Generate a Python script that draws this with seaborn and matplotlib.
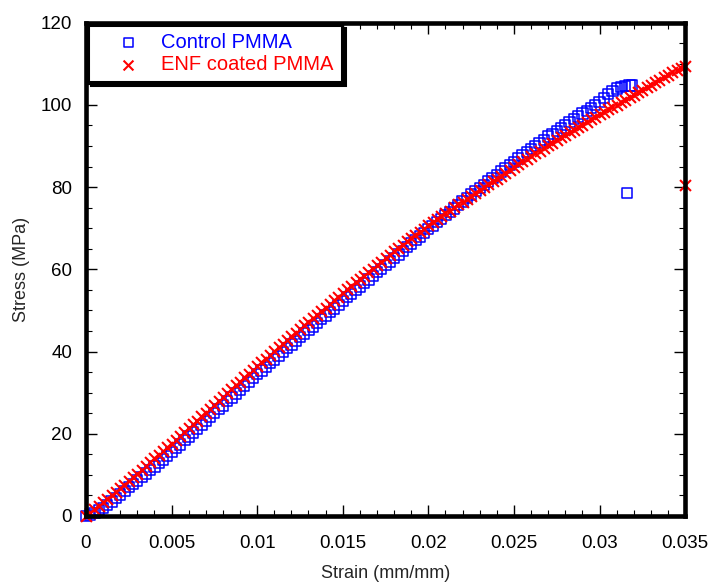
import numpy as np
import pandas as pd
import matplotlib
matplotlib.use("Agg")
import matplotlib.pyplot as plt
from matplotlib.ticker import MultipleLocator
import seaborn as sns

# Control PMMA (strain in mm/mm, stress in MPa)
control_strain = [
    0.0, 0.00025, 0.0005, 0.00075, 0.001, 0.00125, 0.0015, 0.00175, 0.002, 0.00225,
    0.0025, 0.00275, 0.003, 0.00325, 0.0035, 0.00375, 0.004, 0.00425, 0.0045, 0.00475,
    0.005, 0.00525, 0.0055, 0.00575, 0.006, 0.00625, 0.0065, 0.00675, 0.007, 0.00725,
    0.0075, 0.00775, 0.008, 0.00825, 0.0085, 0.00875, 0.009, 0.00925, 0.0095, 0.00975,
    0.01, 0.01025, 0.0105, 0.01075, 0.011, 0.01125, 0.0115, 0.01175, 0.012, 0.01225,
    0.0125, 0.01275, 0.013, 0.01325, 0.0135, 0.01375, 0.014, 0.01425, 0.0145, 0.01475,
    0.015, 0.01525, 0.0155, 0.01575, 0.016, 0.01625, 0.0165, 0.01675, 0.017, 0.01725,
    0.0175, 0.01775, 0.018, 0.01825, 0.0185, 0.01875, 0.019, 0.01925, 0.0195, 0.01975,
    0.02, 0.02025, 0.0205, 0.02075, 0.021, 0.02125, 0.0215, 0.02175, 0.022, 0.02225,
    0.0225, 0.02275, 0.023, 0.02325, 0.0235, 0.02375, 0.024, 0.02425, 0.0245, 0.02475,
    0.025, 0.02525, 0.0255, 0.02575, 0.026, 0.02625, 0.0265, 0.02675, 0.027, 0.02725,
    0.0275, 0.02775, 0.028, 0.02825, 0.0285, 0.02875, 0.029, 0.02925, 0.0295, 0.02975,
    0.03, 0.03025, 0.0305, 0.03075, 0.031, 0.03125, 0.0315, 0.03175, 0.0319,
    0.0316,
]
control_stress = [
    0.0, 0.3, 0.8, 1.4, 2.0, 2.7, 3.5, 4.3, 5.2, 6.1,
    7.0, 7.8, 8.6, 9.5, 10.3, 11.2, 12.0, 12.9, 13.7, 14.6,
    15.5, 16.5, 17.4, 18.4, 19.3, 20.3, 21.2, 22.2, 23.1, 24.1,
    25.0, 26.0, 26.9, 27.9, 28.8, 29.8, 30.7, 31.7, 32.6, 33.6,
    34.5, 35.4, 36.3, 37.2, 38.1, 39.0, 39.9, 40.8, 41.7, 42.6,
    43.5, 44.4, 45.3, 46.1, 47.0, 47.9, 48.8, 49.7, 50.5, 51.4,
    52.3, 53.2, 54.0, 54.9, 55.8, 56.7, 57.5, 58.4, 59.3, 60.1,
    61.0, 61.9, 62.8, 63.6, 64.5, 65.4, 66.3, 67.2, 68.0, 68.9,
    69.8, 70.6, 71.5, 72.3, 73.2, 74.0, 74.8, 75.7, 76.5, 77.4,
    78.2, 79.0, 79.8, 80.6, 81.4, 82.2, 83.0, 83.8, 84.6, 85.4,
    86.2, 87.0, 87.7, 88.5, 89.2, 90.0, 90.8, 91.5, 92.3, 93.0,
    93.7, 94.4, 95.1, 95.8, 96.5, 97.2, 97.9, 98.6, 99.3, 100.0,
    100.8, 101.7, 102.6, 103.4, 104.0, 104.4, 104.6, 104.7, 104.7,
    78.6,
]

# ENF coated PMMA
enf_strain = [
    0.0, 0.00025, 0.0005, 0.00075, 0.001, 0.00125, 0.0015, 0.00175, 0.002, 0.00225,
    0.0025, 0.00275, 0.003, 0.00325, 0.0035, 0.00375, 0.004, 0.00425, 0.0045, 0.00475,
    0.005, 0.00525, 0.0055, 0.00575, 0.006, 0.00625, 0.0065, 0.00675, 0.007, 0.00725,
    0.0075, 0.00775, 0.008, 0.00825, 0.0085, 0.00875, 0.009, 0.00925, 0.0095, 0.00975,
    0.01, 0.01025, 0.0105, 0.01075, 0.011, 0.01125, 0.0115, 0.01175, 0.012, 0.01225,
    0.0125, 0.01275, 0.013, 0.01325, 0.0135, 0.01375, 0.014, 0.01425, 0.0145, 0.01475,
    0.015, 0.01525, 0.0155, 0.01575, 0.016, 0.01625, 0.0165, 0.01675, 0.017, 0.01725,
    0.0175, 0.01775, 0.018, 0.01825, 0.0185, 0.01875, 0.019, 0.01925, 0.0195, 0.01975,
    0.02, 0.02025, 0.0205, 0.02075, 0.021, 0.02125, 0.0215, 0.02175, 0.022, 0.02225,
    0.0225, 0.02275, 0.023, 0.02325, 0.0235, 0.02375, 0.024, 0.02425, 0.0245, 0.02475,
    0.025, 0.02525, 0.0255, 0.02575, 0.026, 0.02625, 0.0265, 0.02675, 0.027, 0.02725,
    0.0275, 0.02775, 0.028, 0.02825, 0.0285, 0.02875, 0.029, 0.02925, 0.0295, 0.02975,
    0.03, 0.03025, 0.0305, 0.03075, 0.031, 0.03125, 0.0315, 0.03175, 0.032, 0.03225,
    0.0325, 0.03275, 0.033, 0.03325, 0.0335, 0.03375, 0.034, 0.03425, 0.0345, 0.03475,
    0.035,
    0.035,
]
enf_stress = [
    0.0, 0.8, 1.7, 2.5, 3.4, 4.2, 5.1, 5.9, 6.8, 7.6,
    8.5, 9.4, 10.3, 11.2, 12.1, 13.1, 14.0, 14.9, 15.8, 16.7,
    17.6, 18.5, 19.5, 20.4, 21.4, 22.3, 23.2, 24.2, 25.1, 26.1,
    27.0, 28.0, 28.9, 29.9, 30.8, 31.8, 32.7, 33.7, 34.6, 35.6,
    36.5, 37.4, 38.3, 39.2, 40.1, 41.0, 41.9, 42.8, 43.7, 44.6,
    45.5, 46.4, 47.2, 48.1, 49.0, 49.9, 50.7, 51.6, 52.5, 53.3,
    54.2, 55.1, 55.9, 56.8, 57.6, 58.5, 59.4, 60.2, 61.1, 61.9,
    62.8, 63.6, 64.4, 65.2, 66.0, 66.8, 67.6, 68.4, 69.2, 69.9,
    70.7, 71.4, 72.2, 72.9, 73.6, 74.3, 75.1, 75.8, 76.5, 77.2,
    77.9, 78.6, 79.3, 80.0, 80.7, 81.4, 82.1, 82.8, 83.5, 84.2,
    84.9, 85.6, 86.3, 86.9, 87.6, 88.2, 88.9, 89.5, 90.2, 90.8,
    91.5, 92.1, 92.7, 93.3, 94.0, 94.6, 95.2, 95.8, 96.5, 97.1,
    97.7, 98.3, 98.9, 99.5, 100.1, 100.7, 101.3, 101.9, 102.5, 103.1,
    103.7, 104.3, 104.9, 105.5, 106.1, 106.7, 107.3, 107.9, 108.5, 109.0,
    109.5,
    80.6,
]

series_names = ["Control PMMA", "ENF coated PMMA"]
series_colors = ["#0000ff", "#ff0000"]

control_df = pd.DataFrame({"strain": control_strain, "stress": control_stress})
enf_df = pd.DataFrame({"strain": enf_strain, "stress": enf_stress})

sns.set_theme(style="ticks")
plt.rcParams["font.family"] = ["Liberation Sans", "DejaVu Sans"]

fig = plt.figure(figsize=(7.10, 5.83), dpi=100)
ax = fig.add_axes([0.121, 0.115, 0.844, 0.846])

sns.scatterplot(data=control_df, x="strain", y="stress", ax=ax,
                marker="s", s=55, color=series_colors[0], facecolor="none",
                edgecolor=series_colors[0], linewidth=1.1, label=series_names[0],
                clip_on=False, zorder=3)
sns.scatterplot(data=enf_df, x="strain", y="stress", ax=ax,
                marker="x", s=62, color=series_colors[1],
                linewidth=1.5, label=series_names[1], clip_on=False, zorder=4)

ax.set_xlim(0, 0.035)
ax.set_ylim(0, 120)
ax.xaxis.set_minor_locator(MultipleLocator(0.001))
ax.yaxis.set_major_locator(MultipleLocator(20))
ax.yaxis.set_minor_locator(MultipleLocator(5))
ax.set_xticks([0, 0.005, 0.01, 0.015, 0.02, 0.025, 0.03, 0.035])
ax.set_xticklabels(["0", "0.005", "0.01", "0.015", "0.02", "0.025", "0.03", "0.035"])

ax.tick_params(which="both", direction="in", top=True, right=True, colors="black",
               labelsize=13.5)
ax.tick_params(which="major", length=8, width=1.0)
ax.tick_params(which="minor", length=4, width=0.8)
ax.tick_params(axis="x", which="major", pad=14)
ax.tick_params(axis="y", which="major", pad=10)

for sp in ax.spines.values():
    sp.set_linewidth(3.3)
    sp.set_color("black")
    sp.set_zorder(5)

ax.set_xlabel("Strain (mm/mm)", fontsize=13, labelpad=9)
ax.set_ylabel("Stress (MPa)", fontsize=13, labelpad=8)

leg = ax.legend(loc="upper left", bbox_to_anchor=(0.0, 1.0), borderaxespad=0.1,
                frameon=True, fancybox=False, fontsize=14.5,
                shadow={"color": "black", "alpha": 1.0},
                handletextpad=0.05, borderpad=0.4, labelspacing=0.15,
                handlelength=3.2, markerscale=0.9)
leg.get_frame().set_edgecolor("black")
leg.get_frame().set_linewidth(2.2)
leg.get_frame().set_alpha(1.0)
leg.set_zorder(10)
for txt, c in zip(leg.get_texts(), series_colors):
    txt.set_color(c)

fig.savefig("out.png", dpi=100)
